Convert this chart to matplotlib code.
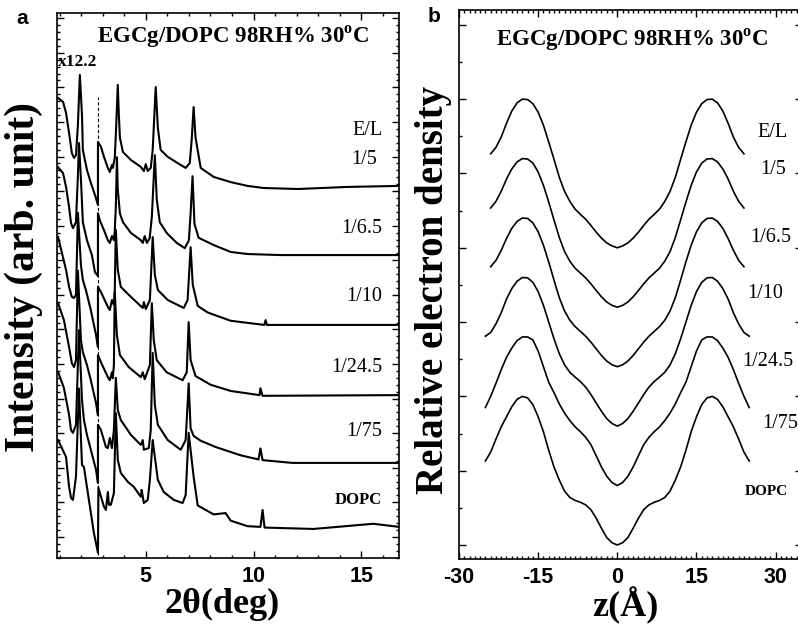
import matplotlib
matplotlib.use('Agg')
import matplotlib.pyplot as plt
from matplotlib.ticker import MultipleLocator, AutoMinorLocator

plt.rcParams['mathtext.fontset'] = 'custom'
plt.rcParams['mathtext.rm'] = 'Liberation Serif:bold'
plt.rcParams['mathtext.bf'] = 'Liberation Serif:bold'

SERIF = 'Liberation Serif'
SANS = 'Liberation Sans'

# ---- panel a : XRD profiles (2theta, intensity above own baseline) ----
labels = ['1/5', '1/6.5', '1/10', '1/24.5', '1/75', 'DOPC']
xrd_offsets = [10.12, 8.15, 6.13, 4.10, 2.14, 0.29]
scale_cut = 2.78   # right of this the data are multiplied by 12.2

xrd_15 = [(0.93, 2.57), (1.16, 2.46), (1.30, 2.14), (1.44, 1.56), (1.57, 0.98), (1.67, 0.84),
          (1.76, 0.92), (1.85, 1.79), (1.94, 3.24), (2.04, 2.08), (2.08, 1.07), (2.27, 0.49),
          (2.45, 0.12), (2.64, -0.23), (2.78, -0.52), (2.78, 1.30), (2.92, 1.16), (3.06, 0.87),
          (3.24, 0.55), (3.33, 0.43), (3.43, 0.64), (3.47, 0.55), (3.56, 0.84), (3.61, 1.50),
          (3.70, 2.95), (3.75, 2.08), (3.80, 1.42), (3.94, 1.01), (4.31, 0.78), (4.77, 0.58),
          (4.91, 0.46), (5.00, 0.66), (5.09, 0.46), (5.23, 0.55), (5.32, 1.07), (5.46, 2.89),
          (5.56, 1.71), (5.69, 1.07), (6.02, 0.87), (6.48, 0.69), (6.85, 0.55), (7.04, 0.69),
          (7.13, 1.36), (7.22, 2.31), (7.31, 1.42), (7.55, 0.55), (8.15, 0.29), (8.94, 0.14),
          (9.72, 0.03), (10.46, -0.03), (12.04, -0.06), (14.35, 0.0), (16.75, 0.03)]

xrd_165 = [(0.93, 2.54), (1.16, 2.37), (1.30, 1.97), (1.44, 1.39), (1.53, 0.93), (1.62, 0.78),
           (1.76, 0.95), (1.85, 2.30), (1.90, 3.24), (1.99, 2.20), (2.08, 0.95), (2.27, 0.43),
           (2.50, 0.0), (2.64, -0.49), (2.78, -0.61), (2.78, 1.21), (2.87, 1.0), (3.06, 0.72),
           (3.24, 0.43), (3.33, 0.35), (3.43, 0.55), (3.52, 0.43), (3.56, 0.70), (3.61, 1.40),
           (3.66, 2.83), (3.70, 1.90), (3.80, 1.20), (3.94, 0.95), (4.31, 0.64), (4.77, 0.43),
           (4.86, 0.35), (4.95, 0.55), (5.05, 0.35), (5.18, 0.49), (5.28, 1.10), (5.42, 2.89),
           (5.51, 1.60), (5.65, 0.95), (5.97, 0.64), (6.44, 0.35), (6.81, 0.20), (7.00, 0.43),
           (7.08, 1.20), (7.17, 2.28), (7.26, 0.90), (7.45, 0.50), (8.15, 0.29), (8.94, 0.09),
           (9.72, 0.03), (11.25, 0.0), (16.75, 0.0)]

xrd_110 = [(0.93, 2.54), (1.30, 1.59), (1.44, 1.10), (1.57, 0.81), (1.67, 0.78), (1.76, 0.87),
           (1.85, 3.24), (1.99, 1.73), (2.08, 1.30), (2.22, 1.01), (2.45, 0.43), (2.69, -0.29),
           (2.78, -0.64), (2.78, 1.10), (2.92, 0.95), (3.24, 0.52), (3.33, 0.43), (3.43, 0.72),
           (3.52, 0.58), (3.56, 1.0), (3.61, 2.75), (3.70, 1.59), (3.84, 1.10), (4.31, 0.81),
           (4.86, 0.49), (4.91, 0.66), (5.00, 0.46), (5.19, 0.72), (5.32, 2.54), (5.42, 1.45),
           (5.56, 1.01), (6.02, 0.72), (6.76, 0.49), (6.94, 0.72), (7.08, 2.25), (7.18, 1.16),
           (7.41, 0.55), (7.87, 0.36), (8.94, 0.12), (10.5, 0.0), (10.56, 0.14), (10.62, 0.0),
           (16.75, 0.0)]

xrd_1245 = [(0.93, 2.66), (1.20, 2.17), (1.44, 1.39), (1.57, 0.92), (1.67, 0.81), (1.76, 1.01),
            (1.85, 3.60), (1.99, 1.59), (2.08, 1.24), (2.27, 0.87), (2.45, 0.43), (2.69, -0.23),
            (2.78, -0.58), (2.78, 1.16), (2.92, 0.95), (3.24, 0.52), (3.33, 0.43), (3.43, 0.66),
            (3.47, 0.49), (3.52, 0.87), (3.56, 2.98), (3.66, 1.73), (3.80, 1.16), (4.21, 0.81),
            (4.77, 0.52), (4.86, 0.66), (4.95, 0.46), (5.19, 0.87), (5.28, 2.66), (5.37, 1.59),
            (5.51, 1.01), (5.97, 0.66), (6.71, 0.43), (6.90, 0.66), (6.99, 2.11), (7.08, 1.01),
            (7.31, 0.55), (8.01, 0.30), (8.94, 0.12), (10.28, 0.0), (10.32, 0.20),
            (10.42, -0.02), (16.75, 0.0)]

xrd_175 = [(0.93, 2.63), (1.20, 2.17), (1.44, 1.39), (1.53, 0.95), (1.62, 0.87), (1.76, 1.10),
           (1.90, 3.84), (2.04, 1.82), (2.13, 1.24), (2.27, 0.81), (2.45, 0.38), (2.69, -0.20),
           (2.78, -0.58), (2.78, 1.10), (2.92, 0.95), (3.15, 0.46), (3.24, 0.43), (3.33, 0.72),
           (3.43, 0.43), (3.52, 0.95), (3.61, 2.46), (3.70, 1.53), (3.84, 1.24), (4.31, 0.81),
           (4.77, 0.52), (4.86, 0.66), (4.91, 0.38), (5.14, 0.43), (5.23, 0.95), (5.32, 3.18),
           (5.42, 1.68), (5.56, 1.10), (6.02, 0.66), (6.62, 0.38), (6.85, 0.66), (6.99, 2.30),
           (7.08, 1.00), (7.22, 0.78), (7.55, 0.64), (8.24, 0.46), (9.40, 0.22), (10.23, 0.10),
           (10.32, 0.42), (10.42, 0.08), (11.80, 0.0), (16.75, 0.0)]

xrd_dopc = [(0.93, 2.51), (1.30, 2.02), (1.44, 1.16), (1.53, 0.84), (1.62, 0.78), (1.76, 1.45),
            (1.90, 4.00), (2.04, 1.79), (2.13, 1.73), (2.36, 0.78), (2.59, -0.17), (2.78, -0.75),
            (2.80, 1.13), (3.06, 0.58), (3.15, 0.49), (3.24, 1.01), (3.29, 0.64), (3.38, 0.64),
            (3.52, 0.98), (3.61, 3.29), (3.70, 1.94), (3.84, 1.56), (4.17, 1.30), (4.44, 1.16),
            (4.77, 0.87), (4.81, 1.07), (4.91, 0.69), (5.09, 0.78), (5.19, 1.36), (5.32, 2.51),
            (5.42, 2.02), (5.56, 1.36), (5.83, 1.01), (6.30, 0.78), (6.71, 0.69), (6.85, 0.92),
            (6.99, 2.72), (7.13, 1.94), (7.22, 1.45), (7.41, 0.62), (8.15, 0.36), (8.70, 0.40),
            (8.94, 0.18), (9.72, 0.02), (10.32, 0.0), (10.42, 0.49), (10.51, -0.02),
            (12.78, -0.06), (15.56, 0.09), (16.75, 0.0)]

xrd_curves = [xrd_15, xrd_165, xrd_110, xrd_1245, xrd_175, xrd_dopc]

# ---- panel b : electron density half profiles (z >= 0, symmetric) ----
ed_offsets = [8.0, 6.4, 4.8, 3.2, 1.6, 0.0]
ed_15 = [0, 0.05, 0.13, 0.26, 0.42, 0.60, 0.77, 0.90, 1.04, 1.25, 1.52, 1.90, 2.38, 2.85, 3.30,
         3.65, 3.88, 3.99, 4.0, 3.90, 3.68, 3.35, 2.98, 2.70, 2.53]
ed_165 = [0, 0.05, 0.14, 0.28, 0.45, 0.63, 0.79, 0.92, 1.05, 1.24, 1.50, 1.88, 2.35, 2.83, 3.28,
          3.64, 3.88, 3.99, 4.0, 3.91, 3.72, 3.45, 3.12, 2.85, 2.67]
ed_110 = [0, 0.05, 0.15, 0.30, 0.48, 0.66, 0.82, 0.95, 1.08, 1.25, 1.50, 1.86, 2.33, 2.82, 3.27,
          3.63, 3.87, 3.99, 4.0, 3.91, 3.72, 3.45, 3.13, 2.86, 2.69]
ed_1245 = [0, 0.07, 0.20, 0.40, 0.62, 0.85, 1.05, 1.20, 1.32, 1.45, 1.65, 1.95, 2.35, 2.80, 3.25,
           3.62, 3.87, 3.99, 4.0, 3.90, 3.70, 3.42, 3.05, 2.75, 2.52, 2.42]
ed_175 = [0, 0.08, 0.25, 0.50, 0.80, 1.10, 1.30, 1.45, 1.58, 1.75, 1.95, 2.20, 2.50, 2.78, 3.20,
          3.62, 3.92, 4.0, 4.0, 3.90, 3.70, 3.45, 3.12, 2.75, 2.40, 2.10]
ed_dopc = [0, 0.06, 0.20, 0.45, 0.72, 0.95, 1.08, 1.15, 1.20, 1.28, 1.45, 1.75, 2.10, 2.55, 3.05,
           3.45, 3.78, 3.96, 4.0, 3.92, 3.72, 3.45, 3.18, 2.85, 2.50, 2.26]
ed_curves = [ed_15, ed_165, ed_110, ed_1245, ed_175, ed_dopc]

title = 'EGCg/DOPC 98RH% 30$^{\\mathrm{o}}$C'

fig = plt.figure(figsize=(7.98, 6.27), dpi=100)
W, H = 798.0, 627.0
ax1 = fig.add_axes([57 / W, 1 - 558 / H, (399 - 57) / W, (558 - 13) / H])
ax2 = fig.add_axes([459 / W, 1 - 559 / H, (802 - 459) / W, (559 - 10) / H])

# panel a
for pts, off in zip(xrd_curves, xrd_offsets):
    tt = [p[0] for p in pts]
    yy = [p[1] + off for p in pts]
    ax1.plot(tt, yy, color='k', lw=1.5)
ax1.plot([scale_cut, scale_cut], [xrd_offsets[-1] - 0.81, xrd_offsets[0] + 2.6],
         color='k', lw=0.8, ls=(0, (3, 2)), zorder=0)
ax1.set_xlim(0.88, 16.75)
ax1.set_ylim(-0.61, 15.15)
ax1.xaxis.set_major_locator(MultipleLocator(5))
ax1.xaxis.set_minor_locator(MultipleLocator(1))
ax1.yaxis.set_major_locator(MultipleLocator(1))
ax1.yaxis.set_minor_locator(AutoMinorLocator(5))
ax1.set_yticklabels([])

lab_a_y = [10.9, 8.93, 6.94, 4.91, 3.06, 1.07]
for lab, y in zip(labels, lab_a_y):
    if lab == 'DOPC':
        ax1.text(15.97, y, lab, ha='right', va='center', fontsize=12,
                 family=SERIF, weight='bold')
    else:
        ax1.text(15.97 if lab != '1/5' else 15.74, y, lab, ha='right', va='center',
                 fontsize=14.5, family=SERIF)
ax1.text(15.97, 11.76, 'E/L', ha='right', va='center', fontsize=14.5, family=SERIF)
ax1.text(0.93, 13.73, 'x12.2', ha='left', va='center', fontsize=12.5,
         family=SERIF, weight='bold')
ax1.text(0.515, 0.956, title, transform=ax1.transAxes, ha='center', va='center',
         fontsize=16.5, family=SERIF, weight='bold')

# panel b
for half, off in zip(ed_curves, ed_offsets):
    zz = list(range(len(half)))
    z_full = [-z for z in zz[::-1]] + zz[1:]
    y_full = half[::-1] + half[1:]
    ax2.plot(z_full, [v + off for v in y_full], color='k', lw=1.2)
ax2.set_xlim(-30, 35)
ax2.set_ylim(-0.377, 14.4)
ax2.xaxis.set_major_locator(MultipleLocator(15))
ax2.xaxis.set_minor_locator(MultipleLocator(1))
ax2.yaxis.set_major_locator(MultipleLocator(2))
ax2.yaxis.set_minor_locator(MultipleLocator(1))
ax2.set_yticklabels([])

lab_b_x = [27.1, 25.2, 24.7, 23.7, 27.5, 24.1]
lab_b_y = [10.1, 8.29, 6.78, 4.93, 3.28, 1.43]
for lab, x, y in zip(labels, lab_b_x, lab_b_y):
    if lab == 'DOPC':
        ax2.text(x, y, lab, ha='left', va='center', fontsize=11, family=SERIF,
                 weight='bold', clip_on=False)
    else:
        ax2.text(x, y, lab, ha='left', va='center', fontsize=14.5, family=SERIF,
                 clip_on=False)
ax2.text(26.6, 11.09, 'E/L', ha='left', va='center', fontsize=14.5, family=SERIF)
ax2.text(0.504, 0.945, title, transform=ax2.transAxes, ha='center', va='center',
         fontsize=16.5, family=SERIF, weight='bold')

for ax in (ax1, ax2):
    ax.tick_params(which='both', direction='in', top=True, right=True, width=1.0)
    ax.tick_params(which='major', length=5)
    ax.tick_params(which='minor', length=2.5)
    ax.tick_params(axis='x', which='major', pad=6)
    for s in ax.spines.values():
        s.set_linewidth(1.2)

ax1.set_xticks([5, 10, 15])
ax1.set_xticklabels(['5', '10', '15'], family=SANS, weight='bold', fontsize=15.5)
ax2.set_xticks([-30, -15, 0, 15, 30])
ax2.set_xticklabels(['-30', '-15', '0', '15', '30'], family=SANS, weight='bold', fontsize=15.5)

fig.text(222 / W, 1 - 604 / H, '2\u03b8(deg)', ha='center', va='center', fontsize=26,
         family=SERIF, weight='bold')
fig.text(625 / W, 1 - 606 / H, 'z(\u00c5)', ha='center', va='center', fontsize=26,
         family=SERIF, weight='bold')
fig.text(24 / W, 1 - 277 / H, 'Intensity (arb. unit)', rotation=90, ha='center',
         va='center', fontsize=30, family=SERIF, weight='bold')
fig.text(433 / W, 1 - 290 / H, 'Relative electron density', rotation=90, ha='center',
         va='center', fontsize=28, family=SERIF, weight='bold')
fig.text(22 / W, 1 - 18 / H, 'a', ha='center', va='center', fontsize=15,
         family=SANS, weight='bold')
fig.text(434 / W, 1 - 17 / H, 'b', ha='center', va='center', fontsize=15,
         family=SANS, weight='bold')

fig.savefig('out.png', dpi=100)
